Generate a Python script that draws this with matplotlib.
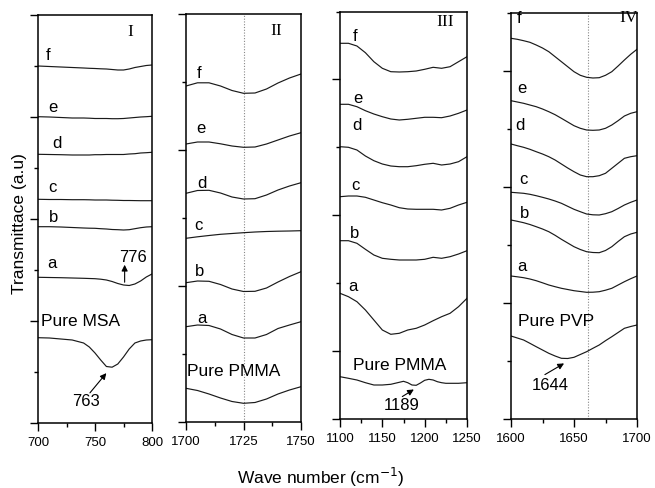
import matplotlib
matplotlib.use("Agg")
import matplotlib.pyplot as plt
from matplotlib.ticker import FixedLocator, MultipleLocator

plt.rcParams['font.family'] = ['Liberation Sans', 'DejaVu Sans']

# ---------------- data (transmittance, arbitrary units, offset-stacked) -------------
# Panel I : 700-800 cm-1
x_I = [700, 710, 720, 730, 740, 745, 750, 755, 760, 765, 770, 775, 780, 785, 790, 795, 800]
I_pure = [85.3, 85, 84, 83, 80, 76, 70, 63, 56.5, 55.8, 59, 66, 74, 80, 82, 83, 83.3]
I_a = [145.7, 145.5, 145.3, 145, 144.7, 144.5, 144.3, 143.8, 143, 141.5, 139.5, 138, 137.5, 139, 142, 146, 149]
I_b = [196.3, 196.3, 196, 195.5, 195, 194.8, 194.7, 194.3, 194, 193.5, 193.3, 193, 193.3, 194.3, 195.3, 196, 196.3]
I_c = [223.7, 223.5, 223.5, 223.3, 223.3, 223.2, 223, 223, 223, 222.8, 222.7, 222.5, 222.5, 222.4, 222.3, 222.3, 222.3]
I_d = [268.7, 268.5, 268.3, 268, 268, 268, 268.3, 268.3, 268.5, 268.5, 268.5, 268.5, 269, 269.3, 270, 270.3, 270.7]
I_e = [306.3, 306, 305.5, 305, 305, 304.8, 304.5, 304.5, 304.5, 304.3, 304.3, 304.5, 305, 305.5, 306, 306.3, 306.7]
I_f = [357, 356.5, 356, 355.5, 355, 354.7, 354.5, 354.2, 354, 353.5, 353, 353, 354, 355.5, 356.5, 357.5, 358]

# Panel II : 1700-1750 cm-1
x_II = [1700, 1705, 1710, 1715, 1720, 1725, 1730, 1735, 1740, 1745, 1750]
II_pure = [33.7, 31.5, 28, 24, 20.5, 18.7, 19.5, 23, 28, 32, 35.3]
II_a = [95.3, 97, 96.5, 93, 87.5, 84, 84, 87.5, 93.5, 97, 100.3]
II_b = [139.3, 141, 140.7, 137.5, 133, 130.5, 130.7, 134, 140, 145.5, 150.3]
II_c = [183.7, 185.2, 186.5, 187.7, 188.5, 189.3, 190, 190.5, 190.8, 191, 191.3]
II_d = [228.7, 231.5, 231.7, 229, 225, 223, 223.3, 227, 232, 236, 239.3]
II_e = [278, 280, 280, 278.2, 276, 274.7, 275, 278, 282, 286, 289.3]
II_f = [336, 339.2, 339.2, 336, 331.5, 328.7, 329, 333, 339, 344, 348]

# Panel III : 1100-1250 cm-1
x_III = [1100, 1110, 1120, 1130, 1140, 1150, 1160, 1170, 1180, 1190, 1200, 1210, 1220, 1230, 1240, 1250]
x_III_pure = [1100, 1110, 1120, 1130, 1140, 1150, 1160, 1170, 1175, 1180, 1185, 1190, 1195, 1200,
              1205, 1210, 1215, 1220, 1225, 1230, 1235, 1240, 1245, 1250]
III_pure = [42.3, 40.7, 39, 36.3, 34, 34, 34.7, 36.7, 37.7, 36.3, 34, 33.7, 36, 38.7,
            39.7, 39, 37.3, 36.3, 35.7, 35.7, 35.7, 35.7, 36, 36.3]
III_a = [125.7, 122.3, 117.3, 109, 99, 89, 84.7, 85.7, 89, 90.7, 94, 98.3, 102.3, 105.7, 112.3, 120.7]
III_b = [178.3, 178.3, 175.7, 169.7, 164, 160.7, 159.7, 159, 159, 159, 159.7, 161.7, 160.7, 162.3, 165, 168.3]
III_c = [222.3, 223, 223, 221.7, 219, 216.3, 214, 211.3, 210, 209.7, 209.7, 209.7, 209, 210.7, 214, 216.7]
III_d = [272.3, 271.7, 269, 263, 258.3, 255, 253, 252.3, 252.3, 253.3, 254.7, 255.7, 254, 255, 257.3, 262.3]
III_e = [314.7, 314.7, 312.3, 308.3, 305, 302.3, 300, 299, 299.7, 300.7, 301.7, 301.7, 301.3, 303, 305.7, 309]
III_f = [375.7, 375.7, 373, 366.3, 357.3, 350.7, 347.3, 347, 347.3, 348, 349.7, 351.7, 350.7, 352.3, 357.3, 362.3]

# Panel IV : 1600-1700 cm-1
x_IV = [1600, 1605, 1610, 1615, 1620, 1625, 1630, 1635, 1640, 1645, 1650,
        1655, 1660, 1665, 1670, 1675, 1680, 1685, 1690, 1695, 1700]
IV_pure = [83, 81, 79, 75.7, 72.3, 69, 65.7, 63, 60.7, 60.5, 61.7,
           64.5, 67.3, 70.7, 74, 78.3, 82.3, 86.5, 90.7, 92.5, 94]
IV_a = [143, 142.2, 141.3, 140, 138.3, 136.2, 134, 132.3, 130.7, 129.5, 128.3,
        127.5, 126.7, 126.8, 127.3, 128.8, 130.7, 134, 137.3, 140.3, 143]
IV_b = [199, 197.7, 196.3, 194.5, 192.3, 190, 187.3, 183.7, 179.7, 176, 172.3,
        169.5, 167.3, 166.5, 166.3, 168.5, 172.3, 177.5, 182.3, 185, 186.7]
IV_c = [226.7, 226.2, 225.7, 224.7, 223.3, 221.7, 220, 218, 215.7, 212.7, 209.7,
        207.3, 205, 204.2, 204, 205.3, 207.3, 210.5, 214, 216.7, 219]
IV_d = [275, 273.3, 271.7, 269.7, 267.3, 265, 262.3, 259, 255, 251, 247.3,
        244, 242.3, 242.3, 243.3, 245.7, 250.7, 255.7, 260.7, 262.3, 263.3]
IV_e = [318.3, 317, 315.7, 314, 312.3, 310, 307.3, 304.3, 300.7, 297, 293.3,
        290.7, 289, 288.7, 289, 290.7, 294, 298.3, 303, 305.7, 307.3]
IV_f = [380.7, 379.7, 378.3, 376.7, 374, 371, 367.3, 362.3, 357.3, 352.3, 347.3,
        343.7, 341.7, 341, 341.3, 343.7, 347.3, 353, 359, 364.7, 369.7]

xticks_I = [700, 750, 800]
xticks_II = [1700, 1725, 1750]
xticks_III = [1100, 1150, 1200, 1250]
xticks_IV = [1600, 1650, 1700]

# ---------------- figure ----------------
fig = plt.figure(figsize=(6.55, 4.88), dpi=100)
W, H = 655, 488

def make_ax(l, r, t, b):
    return fig.add_axes([l / W, (H - b) / H, (r - l) / W, (b - t) / H])

axI = make_ax(38, 152, 15, 423)
axII = make_ax(186, 301, 14, 422)
axIII = make_ax(340, 467, 12, 419)
axIV = make_ax(511, 637, 13, 419)

line_kw = dict(color='#1a1a1a', lw=0.85)
lab_kw = dict(fontsize=12, ha='center', va='center')
pure_kw = dict(fontsize=12.5, ha='left', va='center')
arrow_kw = dict(arrowstyle='-|>', color='k', lw=0.8, mutation_scale=9)

def style(ax, xlim, xticks, xminor, ylim, ymaj, ymin):
    ax.set_xlim(*xlim)
    ax.set_ylim(*ylim)
    ax.set_xticks(xticks)
    ax.xaxis.set_minor_locator(MultipleLocator(xminor))
    ax.yaxis.set_major_locator(FixedLocator(ymaj))
    ax.yaxis.set_minor_locator(FixedLocator(ymin))
    ax.set_yticklabels([])
    ax.tick_params(axis='both', which='major', direction='out', length=5.5, width=1.0,
                   labelsize=9.5, pad=4.5)
    ax.tick_params(axis='both', which='minor', direction='out', length=3, width=1.0)
    ax.tick_params(top=False, right=False, which='both')
    for s in ax.spines.values():
        s.set_linewidth(1.1)

# Panel I
for y in [I_pure, I_a, I_b, I_c, I_d, I_e, I_f]:
    axI.plot(x_I, y, **line_kw)
style(axI, (700, 800), xticks_I, 25, (0, 408), [0, 102, 204, 306, 408], [51, 153, 255, 357])
for t, (x, y) in zip(['f', 'e', 'd', 'c', 'b', 'a'],
                     [(709, 368), (713.4, 316), (716.4, 280), (712.9, 236), (714, 206), (712, 159)]):
    axI.text(x, y, t, **lab_kw)
axI.text(702.5, 102, 'Pure MSA', **pure_kw)
axI.text(780.7, 391.3, 'I', fontsize=12.5, family='Liberation Serif', ha='center', va='center')
axI.annotate('', xy=(776, 161), xytext=(776, 138), arrowprops=arrow_kw)
axI.text(783, 166, '776', fontsize=12, ha='center', va='center')
axI.annotate('', xy=(761.5, 52), xytext=(744, 28), arrowprops=arrow_kw)
axI.text(742, 21, '763', fontsize=12, ha='center', va='center')

# Panel II
for y in [II_pure, II_a, II_b, II_c, II_d, II_e, II_f]:
    axII.plot(x_II, y, **line_kw)
style(axII, (1700, 1750), xticks_II, 12.5, (0, 408), [0, 136, 272, 408], [68, 204, 340])
axII.axvline(1725, color='#888888', lw=0.8, ls=(0, (1, 1.5)), zorder=0)
for t, (x, y) in zip(['f', 'e', 'd', 'c', 'b', 'a'],
                     [(1705.7, 348.7), (1706.4, 293.7), (1706.8, 238), (1705.3, 197),
                      (1705.8, 150.3), (1706.8, 103.7)]):
    axII.text(x, y, t, **lab_kw)
axII.text(1700.3, 50.3, 'Pure PMMA', **pure_kw)
axII.text(1739.4, 391.3, 'II', fontsize=12.5, family='Liberation Serif', ha='center', va='center')

# Panel III
axIII.plot(x_III_pure, III_pure, **line_kw)
for y in [III_a, III_b, III_c, III_d, III_e, III_f]:
    axIII.plot(x_III, y, **line_kw)
style(axIII, (1100, 1250), xticks_III, 25, (0, 407), [0, 68, 204, 340], [136, 272, 407])
for t, (x, y) in zip(['f', 'e', 'd', 'c', 'b', 'a'],
                     [(1117.7, 382.3), (1121.6, 320.7), (1119.7, 294), (1117.7, 234),
                      (1117.7, 185.7), (1115.7, 132.3)]):
    axIII.text(x, y, t, **lab_kw)
axIII.text(1115.5, 54, 'Pure PMMA', **pure_kw)
axIII.text(1224, 397.3, 'III', fontsize=12.5, family='Liberation Serif', ha='center', va='center')
axIII.annotate('', xy=(1190, 31), xytext=(1170.8, 21), arrowprops=arrow_kw)
axIII.text(1172.8, 13.5, '1189', fontsize=12, ha='center', va='center')

# Panel IV
for y in [IV_pure, IV_a, IV_b, IV_c, IV_d, IV_e, IV_f]:
    axIV.plot(x_IV, y, **line_kw)
style(axIV, (1600, 1700), xticks_IV, 25, (0, 406), [0, 116, 232, 348], [58, 174, 290, 406])
axIV.axvline(1661, color='#888888', lw=0.8, ls=(0, (1, 1.5)), zorder=0)
for t, (x, y) in zip(['f', 'e', 'd', 'c', 'b', 'a'],
                     [(1606.6, 400.7), (1608.5, 330.7), (1607.1, 294), (1609.8, 239),
                      (1611.1, 205.7), (1609, 152.3)]):
    axIV.text(x, y, t, **lab_kw)
axIV.text(1605.8, 98, 'Pure PVP', **pure_kw)
axIV.text(1693, 400.7, 'IV', fontsize=12.5, family='Liberation Serif', ha='center', va='center')
axIV.annotate('', xy=(1644, 57), xytext=(1625, 43), arrowprops=arrow_kw)
axIV.text(1631.3, 33, '1644', fontsize=12, ha='center', va='center')

# axis titles
fig.text(20 / W, 1 - 224 / H, 'Transmittace (a.u)', rotation=90, fontsize=12.5,
         ha='center', va='center')
fig.text(321 / W, 1 - 477 / H, 'Wave number (cm$^{-1}$)', fontsize=12.5,
         ha='center', va='center')

fig.savefig('out.png', dpi=100)
